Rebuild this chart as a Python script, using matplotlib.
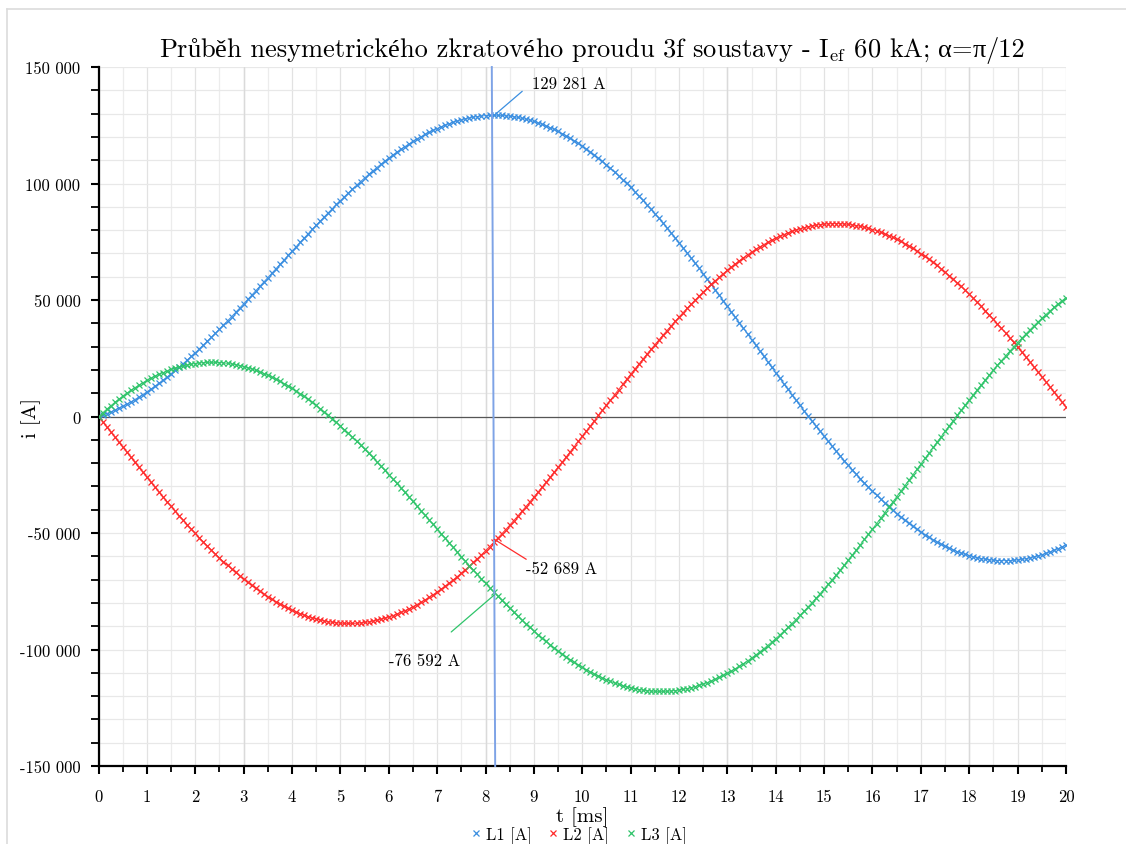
import numpy as np
import matplotlib
matplotlib.use("Agg")
import matplotlib.pyplot as plt
from matplotlib.lines import Line2D
from matplotlib.ticker import MultipleLocator, FuncFormatter

plt.rcParams['font.family'] = ['cmr10']
plt.rcParams['mathtext.fontset'] = 'cm'
plt.rcParams['axes.unicode_minus'] = False

# sampling grid: one period of 20 ms, 1/12 ms step
t_ms = np.linspace(0, 20, 241)

i_L1 = [
    0, 602, 1257, 1966, 2726, 3538, 4400, 5312, 6272, 7280,
    8335, 9436, 10582, 11772, 13004, 14278, 15592, 16946, 18337, 19765,
    21229, 22727, 24258, 25820, 27409, 29030, 30679, 32355, 34055, 35779,
    37525, 39291, 41076, 42879, 44698, 46532, 48380, 50239, 52108, 53985,
    55869, 57760, 59653, 61550, 63447, 65345, 67239, 69130, 71018, 72898,
    74769, 76631, 78481, 80319, 82143, 83950, 85741, 87514, 89266, 90998,
    92707, 94391, 96050, 97682, 99286, 100860, 102404, 103915, 105393, 106838,
    108246, 109617, 110950, 112244, 113498, 114710, 115881, 117008, 118091, 119129,
    120121, 121066, 121963, 122812, 123612, 124362, 125060, 125706, 126301, 126843,
    127333, 127768, 128149, 128476, 128748, 128964, 129123, 129228, 129276, 129267,
    129202, 129080, 128902, 128667, 128374, 128025, 127619, 127157, 126637, 126061,
    125430, 124742, 123999, 123201, 122348, 121441, 120479, 119465, 118398, 117279,
    116108, 114885, 113612, 112290, 110920, 109501, 108035, 106522, 104964, 103361,
    101714, 100025, 98294, 96523, 94713, 92864, 90978, 89055, 87098, 85107,
    83083, 81028, 78943, 76829, 74686, 72519, 70327, 68111, 65874, 63616,
    61339, 59045, 56734, 54408, 52069, 49718, 47356, 44986, 42608, 40225,
    37838, 35446, 33054, 30661, 28271, 25883, 23501, 21125, 18755, 16396,
    14048, 11711, 9388, 7080, 4789, 2517, 264, -1968, -4178, -6365,
    -8525, -10659, -12765, -14842, -16889, -18904, -20886, -22833, -24744, -26619,
    -28456, -30254, -32012, -33728, -35402, -37032, -38618, -40158, -41652, -43099,
    -44497, -45846, -47145, -48394, -49590, -50735, -51827, -52865, -53849, -54778,
    -55653, -56471, -57233, -57939, -58588, -59179, -59711, -60187, -60604, -60962,
    -61262, -61503, -61686, -61810, -61874, -61881, -61829, -61718, -61549, -61321,
    -61036, -60693, -60292, -59834, -59320, -58750, -58123, -57442, -56706, -55917,
    -55074,
]

i_L2 = [
    0, -2189, -4380, -6572, -8763, -10953, -13138, -15319, -17493, -19659,
    -21814, -23959, -26091, -28209, -30312, -32396, -34463, -36510, -38535, -40538,
    -42516, -44468, -46394, -48292, -50159, -51996, -53801, -55572, -57309, -59010,
    -60674, -62299, -63885, -65431, -66935, -68397, -69815, -71189, -72516, -73798,
    -75032, -76218, -77354, -78442, -79478, -80464, -81396, -82276, -83103, -83876,
    -84595, -85259, -85867, -86420, -86916, -87356, -87738, -88064, -88332, -88542,
    -88695, -88789, -88827, -88806, -88726, -88588, -88394, -88141, -87830, -87461,
    -87037, -86554, -86015, -85420, -84769, -84063, -83301, -82485, -81616, -80693,
    -79718, -78689, -77610, -76480, -75301, -74072, -72796, -71471, -70100, -68684,
    -67222, -65718, -64171, -62582, -60953, -59284, -57577, -55832, -54052, -52238,
    -50390, -48509, -46598, -44657, -42688, -40692, -38670, -36623, -34554, -32464,
    -30353, -28225, -26078, -23916, -21740, -19551, -17351, -15141, -12922, -10697,
    -8467, -6233, -3997, -1760, 475, 2710, 4939, 7163, 9381, 11590,
    13789, 15977, 18151, 20312, 22456, 24583, 26691, 28780, 30846, 32890,
    34909, 36902, 38868, 40806, 42714, 44590, 46435, 48246, 50021, 51761,
    53464, 55128, 56752, 58336, 59878, 61377, 62833, 64244, 65609, 66928,
    68198, 69421, 70593, 71717, 72789, 73811, 74779, 75694, 76556, 77364,
    78118, 78816, 79459, 80046, 80577, 81050, 81466, 81825, 82127, 82370,
    82556, 82683, 82753, 82764, 82717, 82612, 82449, 82228, 81949, 81611,
    81218, 80767, 80259, 79694, 79074, 78398, 77667, 76881, 76041, 75149,
    74203, 73204, 72154, 71053, 69903, 68703, 67455, 66159, 64817, 63428,
    61995, 60519, 58999, 57438, 55836, 54195, 52515, 50797, 49044, 47257,
    45435, 43581, 41696, 39781, 37838, 35868, 33872, 31851, 29808, 27742,
    25657, 23554, 21432, 19295, 17143, 14979, 12803, 10618, 8423, 6222,
    4016,
]

i_L3 = [
    0, 1587, 3123, 4606, 6037, 7415, 8738, 10007, 11221, 12379,
    13479, 14523, 15509, 16437, 17308, 18118, 18871, 19564, 20198, 20773,
    21287, 21741, 22136, 22472, 22750, 22966, 23122, 23217, 23254, 23231,
    23149, 23008, 22809, 22552, 22237, 21865, 21435, 20950, 20408, 19813,
    19163, 18458, 17701, 16892, 16031, 15119, 14157, 13146, 12085, 10978,
    9826, 8628, 7386, 6101, 4773, 3406, 1997, 550, -934, -2456,
    -4012, -5602, -7223, -8876, -10560, -12272, -14010, -15774, -17563, -19377,
    -21209, -23063, -24935, -26824, -28729, -30647, -32580, -34523, -36475, -38436,
    -40403, -42377, -44353, -46332, -48311, -50290, -52264, -54235, -56201, -58159,
    -60111, -62050, -63978, -65894, -67795, -69680, -71546, -73396, -75224, -77029,
    -78812, -80571, -82304, -84010, -85686, -87333, -88949, -90534, -92083, -93597,
    -95077, -96517, -97921, -99285, -100608, -101890, -103128, -104324, -105476, -106582,
    -107641, -108652, -109615, -110530, -111395, -112211, -112974, -113685, -114345, -114951,
    -115503, -116002, -116445, -116835, -117169, -117447, -117669, -117835, -117944, -117997,
    -117992, -117930, -117811, -117635, -117400, -117109, -116762, -116357, -115895, -115377,
    -114803, -114173, -113486, -112744, -111947, -111095, -110189, -109230, -108217, -107153,
    -106036, -104867, -103647, -102378, -101060, -99694, -98280, -96819, -95311, -93760,
    -92166, -90527, -88847, -87126, -85366, -83567, -81730, -79857, -77949, -76005,
    -74031, -72024, -69988, -67922, -65828, -63708, -61563, -59395, -57205, -54992,
    -52762, -50513, -48247, -45966, -43672, -41366, -39049, -36723, -34389, -32050,
    -29706, -27358, -25009, -22659, -20313, -17968, -15628, -13294, -10968, -8650,
    -6342, -4048, -1766, 501, 2752, 4984, 7196, 9390, 11560, 13705,
    15827, 17922, 19990, 22029, 24036, 26013, 27957, 29867, 31741, 33579,
    35379, 37139, 38860, 40539, 42177, 43771, 45320, 46824, 48283, 49695,
    51058,
]

series_names = ["L1 [A]", "L2 [A]", "L3 [A]"]
series_colors = ["#3a8ee0", "#ff2b2b", "#2fc46a"]

# read-out cursor (slightly slanted in time) and the values it reports
cursor_t_top, cursor_t_bottom = 8.13, 8.20
cursor_t = 8.18
cursor_values = [129281, -52689, -76592]
cursor_labels = ["129 281 A", "-52 689 A", "-76 592 A"]

# vertical grid lines drawn a shade darker
dark_grid_t = [3, 8, 13, 18]

# title pieces: Computer Modern for plain text, a serif with the
# Czech/Greek glyphs for the remaining characters
CM, SERIF = "cmr10", "Liberation Serif"
title_parts = [
    ("Pr", CM), ("ů", SERIF), ("b", CM), ("ě", SERIF),
    ("h nesymetrick", CM), ("é", SERIF), ("ho zkratov", CM), ("é", SERIF),
    (r"ho proudu 3f soustavy - I$_{\mathrm{ef}}$ 60 kA;", CM),
    (None, None),  # word space
    ("α", SERIF), ("=", CM), ("π", SERIF), ("/12", CM),
]


def fmt_amp(v, pos=None):
    s = f"{abs(int(round(v))):,}".replace(",", " ")
    return ("-" if v < 0 else "") + s


def draw_mixed_text(fig, parts, xc, y, size):
    renderer = fig.canvas.get_renderer()
    items = []
    for s, fam in parts:
        if s is None:
            items.append((None, 0.33 * size * fig.dpi / 72))
            continue
        t = fig.text(0, y, s, fontsize=size, family=fam, ha="left",
                     va="baseline")
        items.append((t, t.get_window_extent(renderer).width))
    total = sum(w for _, w in items)
    x = xc * fig.bbox.width - total / 2
    for t, w in items:
        if t is not None:
            t.set_x(x / fig.bbox.width)
        x += w


fig = plt.figure(figsize=(11.26, 8.45), dpi=100)
ax = fig.add_axes([0.0875, 0.0923, 0.8592, 0.8272])

ax.set_xlim(0, 20)
ax.set_ylim(-150000, 150000)

ax.xaxis.set_major_locator(MultipleLocator(1))
ax.xaxis.set_minor_locator(MultipleLocator(0.5))
ax.yaxis.set_major_locator(MultipleLocator(50000))
ax.yaxis.set_minor_locator(MultipleLocator(10000))
ax.yaxis.set_major_formatter(FuncFormatter(fmt_amp))

ax.grid(which="major", axis="x", color="#e2e2e2", lw=0.9)
ax.grid(which="minor", axis="x", color="#ececec", lw=0.9)
ax.grid(which="both", axis="y", color="#e8e8e8", lw=0.9)
for tg in dark_grid_t:
    ax.axvline(tg, color="#dadada", lw=1.0, zorder=0.6)
ax.set_axisbelow(True)

for side in ("top", "right"):
    ax.spines[side].set_visible(False)
for side in ("left", "bottom"):
    ax.spines[side].set_linewidth(1.6)
    ax.spines[side].set_color("black")

ax.tick_params(axis="both", which="major", direction="out", length=6,
               width=1.5, labelsize=12)
ax.tick_params(axis="x", which="major", pad=10)
ax.tick_params(axis="x", which="minor", direction="out", length=4, width=1.3)
ax.tick_params(axis="y", which="minor", direction="out", length=6, width=1.3)
ax.tick_params(axis="y", which="major", pad=7)

ax.axhline(0, color="#555555", lw=0.9, zorder=1.5)

for vals, col in zip((i_L1, i_L2, i_L3), series_colors):
    ax.plot(t_ms, vals, color=col, lw=0.6, marker="x", ms=5, mew=0.9,
            zorder=3)

# cursor line
ax.plot([cursor_t_top, cursor_t_bottom], [150000, -150000],
        color="#7ea3e6", lw=1.4, zorder=4, clip_on=False)

# value read-outs with leader lines
leader_off = [(28, 24), (32, -20), (-43, -37)]
text_off = [(38, 32), (32, -29), (-34, -65)]
text_ha = ["left", "left", "right"]
for v, lab, col, lo, to, ha in zip(cursor_values, cursor_labels,
                                   series_colors, leader_off, text_off,
                                   text_ha):
    ax.annotate("", xy=(cursor_t, v), xytext=lo, textcoords="offset pixels",
                arrowprops=dict(arrowstyle="-", color=col, lw=0.9,
                                shrinkA=0, shrinkB=0), zorder=5)
    ax.annotate(lab, xy=(cursor_t, v), xytext=to, textcoords="offset pixels",
                ha=ha, va="center", fontsize=12, zorder=5)

ax.set_xlabel("t [ms]", fontsize=15)
ax.xaxis.set_label_coords(0.5, -0.058)
ax.set_ylabel("i [A]", fontsize=15)
ax.yaxis.set_label_coords(-0.0594, 0.5)

draw_mixed_text(fig, title_parts, 0.526, 0.9325, 19)

handles = [Line2D([], [], ls="none", marker="x", color=c, ms=5, mew=0.9)
           for c in series_colors]
fig.legend(handles, series_names, loc="center", bbox_to_anchor=(0.514, 0.011),
           ncol=3, frameon=False, fontsize=12, handlelength=0.6,
           handletextpad=0.3, columnspacing=1.0)

# page frame lines
fig.add_artist(Line2D([7 / 1126, 1], [1 - 10 / 845] * 2, color="#dcdcdc",
                      lw=1.2))
fig.add_artist(Line2D([7 / 1126] * 2, [0, 1 - 10 / 845], color="#dcdcdc",
                      lw=1.2))

fig.savefig("out.png", dpi=100)
